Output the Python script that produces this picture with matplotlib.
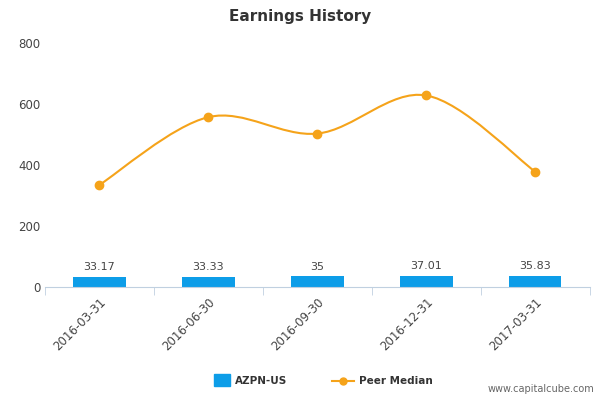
import matplotlib.pyplot as plt
import numpy as np
from matplotlib.path import Path
from matplotlib.patches import PathPatch

dates = ["2016-03-31", "2016-06-30", "2016-09-30", "2016-12-31", "2017-03-31"]
azpn = [33.17, 33.33, 35, 37.01, 35.83]
azpn_labels = ["33.17", "33.33", "35", "37.01", "35.83"]
peer = [335, 557, 503, 628, 378]

fig = plt.figure(figsize=(6, 4), dpi=100)
ax = fig.add_axes([0.075, 0.2825, 0.908, 0.61])
x = np.arange(len(dates))

ax.bar(x, azpn, width=0.48, color="#0d9de8", zorder=2)
for xi, v, lab in zip(x, azpn, azpn_labels):
    ax.text(xi, v + 15, lab, ha="center", va="bottom", fontsize=8, color="#444444")

# smooth curve through the points (Catmull-Rom as cubic Bezier)
pts = np.column_stack([x, peer]).astype(float)
verts = [pts[0]]
codes = [Path.MOVETO]
for i in range(len(pts) - 1):
    p0 = pts[max(i - 1, 0)]
    p1 = pts[i]
    p2 = pts[i + 1]
    p3 = pts[min(i + 2, len(pts) - 1)]
    c1 = p1 + (p2 - p0) / 6
    c2 = p2 - (p3 - p1) / 6
    verts += [c1, c2, p2]
    codes += [Path.CURVE4] * 3
ax.add_patch(PathPatch(Path(verts, codes), fill=False, edgecolor="#f5a31a", lw=1.5, zorder=3))
ax.plot(x, peer, "o", color="#f5a31a", markersize=6, zorder=4)

ax.set_xlim(-0.5, len(dates) - 0.5)
ax.set_ylim(0, 800)
ax.set_yticks([0, 200, 400, 600, 800])
ax.set_xticks(x)
ax.set_xticklabels(dates, rotation=45, ha="right", rotation_mode="anchor", fontsize=8.5, color="#444444")
ax.set_xticks(np.arange(-0.5, len(dates)), minor=True)
ax.tick_params(axis="x", which="major", length=0, pad=6)
ax.tick_params(axis="x", which="minor", length=6, color="#c0d0e0")
ax.tick_params(axis="y", length=0, labelsize=8.5, labelcolor="#444444")
for s in ["top", "right", "left"]:
    ax.spines[s].set_visible(False)
ax.spines["bottom"].set_color("#c0d0e0")

fig.text(0.5, 0.96, "Earnings History", ha="center", va="center", fontsize=11, fontweight="bold", color="#333333")

fig.patches.append(plt.Rectangle((0.357, 0.035), 0.027, 0.03, transform=fig.transFigure, color="#0d9de8"))
fig.text(0.392, 0.048, "AZPN-US", fontsize=7.5, fontweight="bold", va="center", color="#333333")
fig.lines.append(plt.Line2D([0.553, 0.59], [0.048, 0.048], transform=fig.transFigure, color="#f5a31a", lw=1.5))
fig.lines.append(plt.Line2D([0.5715], [0.048], transform=fig.transFigure, marker="o", color="#f5a31a", markersize=5))
fig.text(0.598, 0.048, "Peer Median", fontsize=7.5, fontweight="bold", va="center", color="#333333")
fig.text(0.99, 0.02, "www.capitalcube.com", ha="right", fontsize=7, color="#666666")

fig.savefig("out.png")
